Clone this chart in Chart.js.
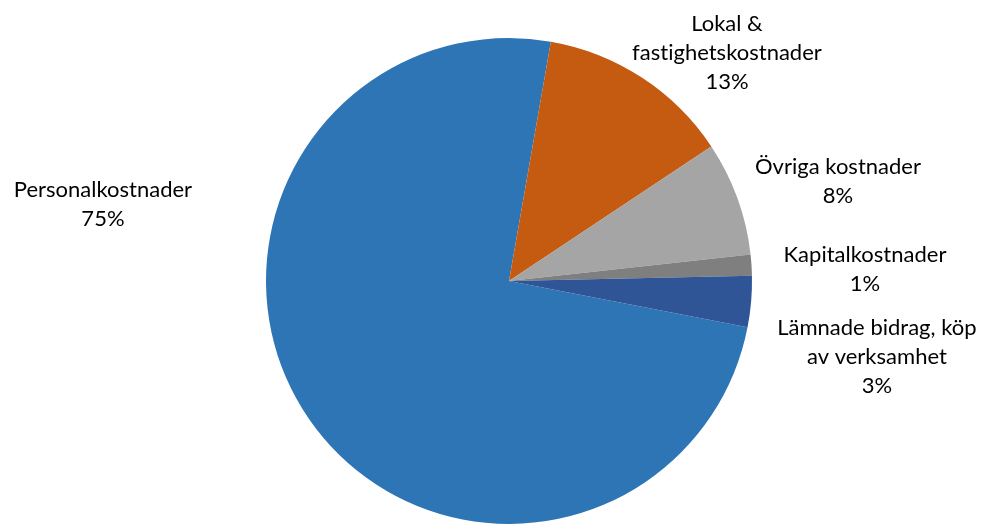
<!DOCTYPE html>
<html>
<head>
<meta charset="utf-8">
<script src="https://cdn.jsdelivr.net/npm/chart.js@4.4.1/dist/chart.umd.min.js"></script>
<style>
  html, body { margin: 0; padding: 0; background: #fff; }
</style>
</head>
<body>
<canvas id="kostnader" width="983" height="525"></canvas>
<script>
/* eslint-disable no-undef */

// Data (andel i procent)
const kategorier = ["Personalkostnader", "Lokal & fastighetskostnader", "Övriga kostnader", "Kapitalkostnader", "Lämnade bidrag, köp av verksamhet"]
const andelar = [74.7, 12.9, 7.6, 1.4, 3.4]
const etikettRader = [
  ["Personalkostnader"],
  ["Lokal &", "fastighetskostnader"],
  ["Övriga kostnader"],
  ["Kapitalkostnader"],
  ["Lämnade bidrag, köp", "av verksamhet"],
]
const farger = ["#2E75B6", "#C55A11", "#A5A5A5", "#7F7F7F", "#2F5597"]

// Etiketternas placering, relativt cirkelns mitt i radie-enheter (x = mitt, y = första baslinjen)
const etikettPlats = [
  [-1.671, -0.347],
  [0.897, -1.030],
  [1.354, -0.440],
  [1.465, -0.079],
  [1.514, 0.222],
]

const totalt = andelar.reduce((a, b) => a + b, 0)

// Plugin som ritar etiketterna utanför tårtbitarna
const etikettPlugin = {
  id: "etiketter",
  afterDraw(chart) {
    const ctx = chart.ctx
    const meta = chart.getDatasetMeta(0)
    ctx.save()
    ctx.font = "22px Lato, 'Noto Sans', sans-serif"
    // liten bokstavsavstånd stänger av ligaturer (t.ex. "ti")
    ctx.letterSpacing = "0.01px"
    ctx.fillStyle = "#000"
    ctx.textAlign = "center"
    ctx.textBaseline = "alphabetic"
    meta.data.forEach((arc, i) => {
      const r = arc.outerRadius
      const x = arc.x + etikettPlats[i][0] * r
      let y = arc.y + etikettPlats[i][1] * r
      const procent = Math.round((andelar[i] / totalt) * 100) + "%"
      const rader = etikettRader[i].concat([procent])
      rader.forEach((rad) => {
        ctx.fillText(rad, x, y)
        y += 29
      })
    })
    ctx.restore()
  },
}

const ctx = document.getElementById("kostnader").getContext("2d")

new Chart(ctx, {
  type: "pie",
  data: {
    labels: kategorier,
    datasets: [
      {
        data: andelar,
        backgroundColor: farger,
        borderWidth: 0,
        hoverOffset: 0,
      },
    ],
  },
  options: {
    responsive: false,
    animation: false,
    rotation: 101,
    layout: {
      padding: { left: 35, right: 0, top: 38, bottom: 1 },
    },
    plugins: {
      legend: { display: false },
      tooltip: { enabled: false },
    },
  },
  plugins: [etikettPlugin],
})
</script>
</body>
</html>
